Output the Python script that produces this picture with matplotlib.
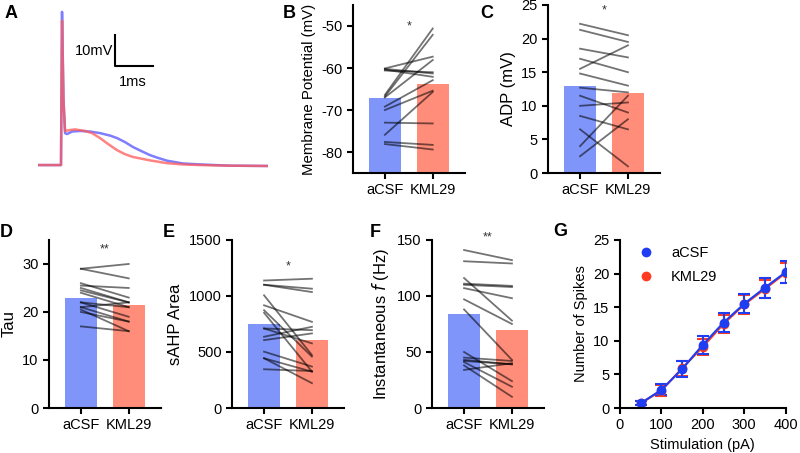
import matplotlib
matplotlib.use("Agg")
import matplotlib.pyplot as plt
from matplotlib.lines import Line2D

plt.rcParams['font.family'] = ['Liberation Sans', 'DejaVu Sans']
plt.rcParams['axes.linewidth'] = 1.5
plt.rcParams['axes.unicode_minus'] = False
plt.rcParams['xtick.major.width'] = 1.5
plt.rcParams['ytick.major.width'] = 1.5
plt.rcParams['xtick.labelsize'] = 10.5
plt.rcParams['ytick.labelsize'] = 10.5

BLUE_BAR = '#7f95f9'
RED_BAR = '#ff8d7a'
conditions = ['aCSF', 'KML29']

# A: example traces (ms, mV relative to baseline)
t_acsf = [0, 0.605, 0.632, 0.671, 0.711, 0.763, 0.895, 1.105, 1.368, 1.632, 1.895,
          2.079, 2.289, 2.5, 2.737, 2.947, 3.158, 3.395, 3.816, 4.263, 5.053, 6.026]
v_acsf = [0, 0, 49.4, 21, 10.3, 10, 10.8, 11, 10.8, 10.3, 9.5,
          8.7, 7.4, 5.8, 4.4, 3.2, 2.3, 1.4, 0.5, 0.2, -0.2, -0.3]
t_kml = [0, 0.605, 0.632, 0.671, 0.711, 0.842, 0.974, 1.237, 1.421, 1.632, 1.842,
         2.079, 2.289, 2.5, 2.947, 3.395, 3.816, 4.263, 5.053, 6.026]
v_kml = [0, 0, 46.5, 21, 11, 11.3, 11.5, 11, 10.3, 8.7, 6.8,
         4.8, 3.5, 2.6, 1.5, 0.6, 0.2, 0, -0.2, -0.3]

# B: membrane potential (mV)
mp_acsf = [-60.1, -60.2, -60.4, -60.6, -66.4, -66.8, -67.0, -69.2, -70.0, -73.0, -75.9, -77.6, -78.1]
mp_kml = [-57.3, -61.3, -62.1, -61.0, -50.6, -52.1, -58.1, -62.9, -65.4, -73.2, -65.7, -78.3, -79.4]
mp_means = [-67.1, -63.8]

# C: ADP (mV)
adp_acsf = [22.2, 21.3, 18.5, 17.0, 15.5, 14.8, 12.7, 11.5, 10.0, 8.5, 6.5, 4.0, 2.5]
adp_kml = [20.5, 19.5, 17.2, 15.0, 19.0, 13.0, 12.0, 9.0, 10.5, 6.5, 1.0, 11.5, 8.0]
adp_means = [13.0, 11.9]

# D: Tau
tau_acsf = [29, 29, 26, 25.5, 25, 24.5, 24, 22, 22, 21, 21, 20.5, 20, 17]
tau_kml = [30, 27, 23, 25, 22, 22, 21, 21, 19, 18, 22, 16, 18, 16]
tau_means = [23.0, 21.5]

# E: sAHP area
sahp_acsf = [1138, 1100, 1100, 1006, 917, 873, 850, 710, 710, 636, 606, 503, 444, 444, 346]
sahp_kml = [1154, 1065, 1035, 473, 769, 459, 325, 695, 577, 725, 666, 370, 325, 222, 330]
sahp_means = [748, 606]

# F: instantaneous frequency (Hz)
freq_acsf = [141, 131, 116, 111, 110, 107, 97, 88, 50, 45, 43, 42, 41, 38, 34]
freq_kml = [132, 129, 78, 109, 108, 98, 75, 43, 24, 42, 39, 39, 19, 10, 40]
freq_means = [84.3, 69.5]

# G: input-output
stim = [50, 100, 150, 200, 250, 300, 350, 400]
spk_acsf = [0.7, 2.7, 5.8, 9.4, 12.7, 15.5, 17.9, 20.2]
err_acsf = [0.3, 0.8, 1.2, 1.3, 1.4, 1.4, 1.5, 1.6]
spk_kml = [0.7, 2.6, 5.9, 9.1, 12.5, 15.4, 17.7, 20.1]
err_kml = [0.3, 0.8, 1.1, 1.2, 1.3, 1.4, 1.3, 1.5]

BLUE_G = '#1f3df2'
RED_G = '#ff3b1f'


def bar_panel(fig, rect, a, b, means, ylim, yticks, ylabel, stars, star_y, label_size=12):
    ax = fig.add_axes(rect)
    base = ylim[0]
    ax.bar([0, 1], [m - base for m in means], bottom=base, width=0.67,
           color=[BLUE_BAR, RED_BAR], zorder=1)
    for y0, y1 in zip(a, b):
        ax.plot([0, 1], [y0, y1], color='black', alpha=0.55, lw=1.3, zorder=2)
    ax.set_xlim(-0.67, 1.67)
    ax.set_ylim(*ylim)
    ax.set_yticks(yticks)
    ax.set_xticks([0, 1])
    ax.set_xticklabels(conditions)
    ax.set_ylabel(ylabel, fontsize=label_size)
    ax.spines['top'].set_visible(False)
    ax.spines['right'].set_visible(False)
    ax.tick_params(length=4)
    ax.text(0.5, star_y, stars, ha='center', va='center', fontsize=9, color='#333333', clip_on=False)
    return ax


fig = plt.figure(figsize=(8, 4.53), dpi=100)

# A
axA = fig.add_axes([0.0475, 0.6247, 0.2875, 0.3532])
axA.plot(t_acsf, v_acsf, color='#7070ff', lw=1.8, alpha=0.9)
axA.plot(t_kml, v_kml, color='#ff5a5a', lw=1.8, alpha=0.75)
axA.plot([2.03, 2.03, 3.03], [41.9, 31.9, 31.9], color='black', lw=1.5)
axA.text(1.97, 36.8, '10mV', ha='right', va='center', fontsize=10.5)
axA.text(2.5, 26.8, '1ms', ha='center', va='center', fontsize=10.5)
axA.set_xlim(0, 6.05)
axA.set_ylim(-1.6, 50)
axA.axis('off')

bar_panel(fig, [0.441, 0.618, 0.14, 0.371], mp_acsf, mp_kml, mp_means,
          (-85, -45), [-80, -70, -60, -50], 'Membrane Potential (mV)', '*', -50.2,
          label_size=10.8)
bar_panel(fig, [0.685, 0.618, 0.14, 0.371], adp_acsf, adp_kml, adp_means,
          (0, 25), [0, 5, 10, 15, 20, 25], 'ADP (mV)', '*', 24.2)
bar_panel(fig, [0.061, 0.0993, 0.14, 0.371], tau_acsf, tau_kml, tau_means,
          (0, 35), [0, 10, 20, 30], 'Tau', '**', 33.0)
bar_panel(fig, [0.29, 0.0993, 0.14, 0.371], sahp_acsf, sahp_kml, sahp_means,
          (0, 1500), [0, 500, 1000, 1500], 'sAHP Area', '*', 1260)
bar_panel(fig, [0.54, 0.0993, 0.14, 0.371], freq_acsf, freq_kml, freq_means,
          (0, 150), [0, 50, 100, 150], 'Instantaneous $\\it{f}$ (Hz)', '**', 152)

# G
axG = fig.add_axes([0.775, 0.0993, 0.207, 0.371])
axG.errorbar(stim, spk_kml, yerr=err_kml, color=RED_G, marker='o', ms=6,
             lw=1.5, capsize=4, elinewidth=1.5, capthick=1.5)
axG.errorbar(stim, spk_acsf, yerr=err_acsf, color=BLUE_G, marker='o', ms=6,
             lw=1.5, capsize=4, elinewidth=1.5, capthick=1.5)
axG.set_xlim(0, 400)
axG.set_ylim(0, 25)
axG.set_xticks([0, 100, 200, 300, 400])
axG.set_yticks([0, 5, 10, 15, 20, 25])
axG.set_xlabel('Stimulation (pA)', fontsize=10.5)
axG.set_ylabel('Number of Spikes', fontsize=10.5)
axG.spines['top'].set_visible(False)
axG.spines['right'].set_visible(False)
axG.tick_params(length=4)
handles = [Line2D([], [], ls='none', marker='o', ms=6, color=BLUE_G),
           Line2D([], [], ls='none', marker='o', ms=6, color=RED_G)]
axG.legend(handles, conditions, loc='upper left', frameon=False, fontsize=10.5,
           handlelength=1.0, handletextpad=1.2, labelspacing=0.7,
           borderaxespad=0.0, bbox_to_anchor=(0.08, 1.0))

# panel letters
for letter, x, y in [('A', 5, 14), ('B', 283, 14), ('C', 480, 14),
                     ('D', 0, 233), ('E', 163, 233), ('F', 370, 233), ('G', 553, 232)]:
    fig.text(x / 800, 1 - y / 453, letter, fontsize=13, fontweight='bold', va='center', ha='left')

fig.savefig('out.png', dpi=100)
